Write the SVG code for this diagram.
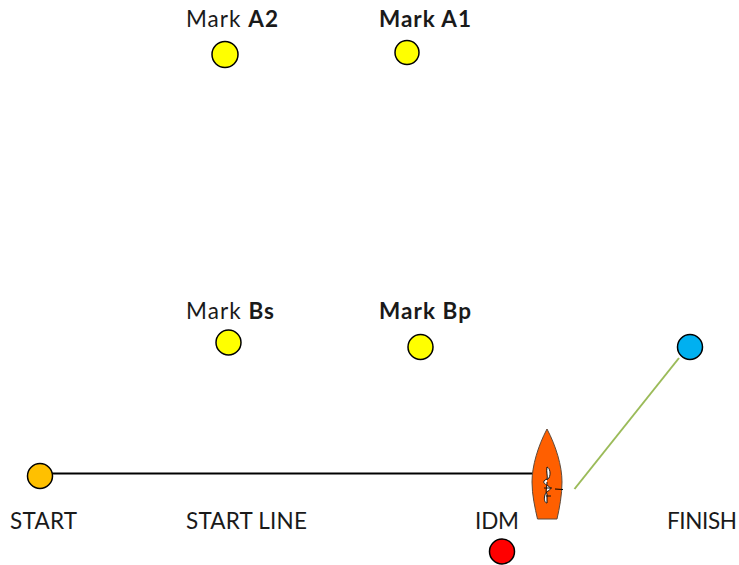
<svg xmlns="http://www.w3.org/2000/svg" width="739" height="565" viewBox="0 0 739 565">
<style>
text{font-family:"Lato","Liberation Sans",sans-serif;font-size:22.5px;fill:#1a1a1a}
.b{font-weight:700}
.m{fill:#ff0;stroke:#000;stroke-width:1.5}
</style>
<rect width="739" height="565" fill="#fff"/>
<g id="connectors">
<line x1="52" y1="473.500" x2="533" y2="473.500" stroke="#000" stroke-width="2"/>
<line x1="574.500" y1="489" x2="679" y2="358" stroke="#9bbb59" stroke-width="2"/>
</g>
<g id="mark-a2"><circle class="m" cx="225" cy="54.500" r="13"/><text x="186" y="27" textLength="92">Mark <tspan class="b">A2</tspan></text></g>
<g id="mark-a1"><circle class="m" cx="407" cy="52.500" r="12"/><text class="b" x="379" y="27" textLength="92">Mark A1</text></g>
<g id="mark-bs"><circle class="m" cx="228.500" cy="342.500" r="12.500"/><text x="186" y="319" textLength="88">Mark <tspan class="b">Bs</tspan></text></g>
<g id="mark-bp"><circle class="m" cx="420.500" cy="347" r="12.500"/><text class="b" x="379" y="319" textLength="92">Mark Bp</text></g>
<g id="start"><circle cx="40" cy="476" r="12.500" fill="#ffc000" stroke="#000" stroke-width="1.500"/><text x="10" y="529" textLength="67">START</text></g>
<g id="start-line"><text x="186" y="529" textLength="121">START LINE</text></g>
<g id="idm"><circle cx="502" cy="551.500" r="12.500" fill="#f00" stroke="#000" stroke-width="1.500"/><text x="475" y="529" textLength="44">IDM</text></g>
<g id="finish"><circle cx="690" cy="347" r="12.500" fill="#00b0f0" stroke="#000" stroke-width="1.500"/><text x="667" y="529" textLength="70">FINISH</text></g>
<g id="boat">
<path d="M547 429C538 446 532 466 532 482C532 495 535 508 537.500 519H557C559.500 508 562 495 562 482C562 466 556 446 547 429Z" fill="#ff5f00" stroke="#5f4a3a" stroke-width="1"/>
<path d="M547 467C550 468 551 474 549 478C547 480 545 479 544 481C543 484 546 484 548 486C551 487 551 490 548 491C546 492 545 494 544.500 497C544 500 545 503 547 503" fill="#fff" stroke="#222" stroke-width="1"/>
<path d="M547 467C546 472 548 476 547 480M547 482C547 488 545 491 547 494M547 494L547 503M544 488H552M546 496H551" fill="none" stroke="#111" stroke-width="1"/>
<line x1="555" y1="489" x2="563" y2="489.500" stroke="#000" stroke-width="1"/>
</g>
</svg>
